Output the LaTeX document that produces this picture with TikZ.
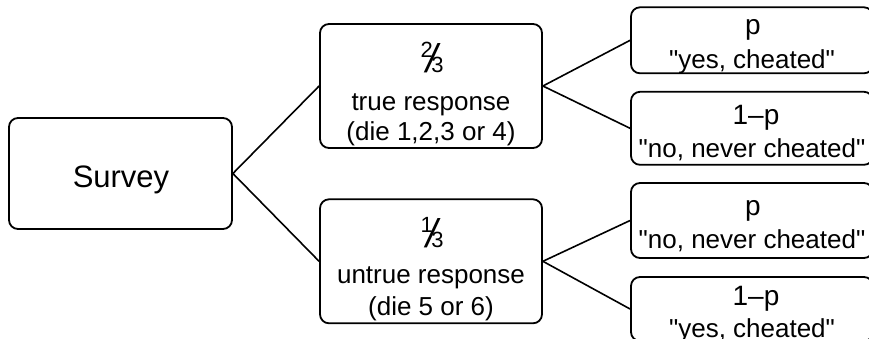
\documentclass[tikz,border=0pt]{standalone}
\usepackage{fontspec}
\setmainfont{Liberation Sans}[Ligatures=TeXOff]
\newcommand\fracglyph[2]{{\fontsize{22}{22}\selectfont\raisebox{14.5pt}{#1}\kern-6pt{\fontsize{40}{40}\selectfont\itshape /}\kern-6.6pt#2}}
\begin{document}
\begin{tikzpicture}[x=1pt,y=-1pt,
 box/.style={draw, rounded corners=9pt, line width=1.8pt, inner sep=0pt},
 link/.style={line width=1.6pt},
 txt/.style={anchor=base, inner sep=0pt, font=\fontsize{26}{30}\selectfont},
 big/.style={anchor=base, inner sep=0pt, font=\fontsize{28}{32}\selectfont}]
\useasboundingbox (0,0) rectangle (869,338);
\clip (0,0) rectangle (869,338);
\node[box, minimum width=223pt, minimum height=111pt] (s) at (120.5,173.5) {};
\node[box, minimum width=222pt, minimum height=124pt] (a) at (431,86) {};
\node[box, minimum width=222pt, minimum height=124pt] (b) at (431,261.3) {};
\node[box, minimum width=242pt, minimum height=66pt] (a1) at (752,40.3) {};
\node[box, minimum width=242pt, minimum height=73pt] (a2) at (752,128.3) {};
\node[box, minimum width=242pt, minimum height=75pt] (b1) at (752,220.5) {};
\node[box, minimum width=242pt, minimum height=64pt] (b2) at (752,309) {};
\draw[link] (s.east) -- (a.west);
\draw[link] (s.east) -- (b.west);
\draw[link] (a.east) -- (a1.west);
\draw[link] (a.east) -- (a2.west);
\draw[link] (b.east) -- (b1.west);
\draw[link] (b.east) -- (b2.west);
\node[txt, font=\fontsize{31}{31}\selectfont] (st) at (121,187.5) {Survey};
\node[txt] (af) at (432,72) {\fracglyph{2}{3}};
\node[txt] (at1) at (431,110) {true response};
\node[txt] (at2) at (431,140) {(die 1,2,3 or 4)};
\node[txt] (bf) at (432,247) {\fracglyph{1}{3}};
\node[txt] (bt1) at (431,283) {untrue response};
\node[txt] (bt2) at (431,315) {(die 5 or 6)};
\node[big] (a1p) at (753,34) {p};
\node[txt] (a1t) at (752,68) {"yes, cheated"};
\node[big] (a2p) at (756,124) {1–p};
\node[txt] (a2t) at (752,157) {"no, never cheated"};
\node[big] (b1p) at (753,215) {p};
\node[txt] (b1t) at (752,248) {"no, never cheated"};
\node[big] (b2p) at (756,305) {1–p};
\node[txt] (b2t) at (752,337) {"yes, cheated"};
\end{tikzpicture}
\end{document}
